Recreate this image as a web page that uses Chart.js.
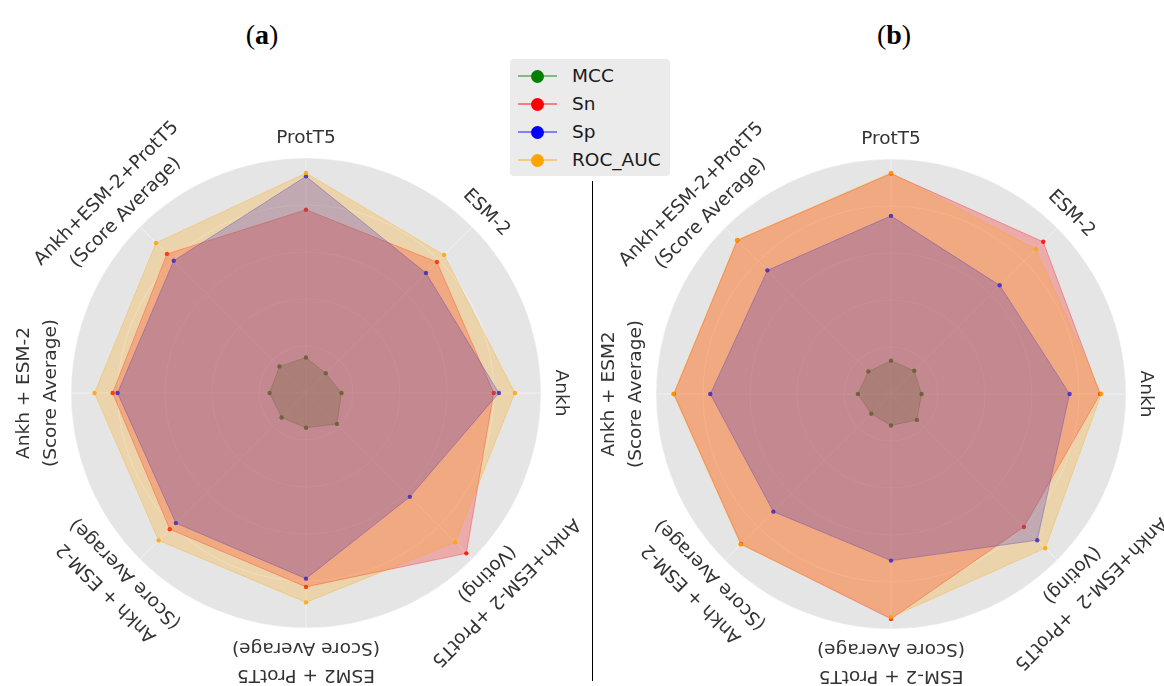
<!DOCTYPE html>
<html>
<head>
<meta charset="utf-8">
<script src="https://cdn.jsdelivr.net/npm/chart.js@4/dist/chart.umd.min.js"></script>
<style>
  html, body { margin: 0; padding: 0; background: #ffffff; }
  #page { position: relative; width: 1164px; height: 686px; overflow: hidden; background: #ffffff; }
  .panel { position: absolute; }
  .tag { position: absolute; width: 100px; text-align: center; font-family: "Liberation Serif", "DejaVu Serif", serif;
         font-size: 28px; line-height: 28px; color: #000; }
  .tag b { font-weight: bold; }
  #divider { position: absolute; left: 592px; top: 181px; width: 1px; height: 500px; background: #000; }
  #legend { position: absolute; left: 510px; top: 59px; width: 160px; height: 117px; background: #EBEBEB;
            border-radius: 4px; font-family: "DejaVu Sans", sans-serif; font-size: 18.5px; color: #1a1a1a; }
  .row { position: absolute; left: 0; height: 28px; width: 160px; }
  .row .ln { position: absolute; left: 8px; top: 13px; width: 39px; height: 1.5px; }
  .row .dot { position: absolute; left: 20.5px; top: 7.5px; width: 13px; height: 13px; border-radius: 50%; }
  .row .tx { position: absolute; left: 62px; top: 0; line-height: 28px; }
</style>
</head>
<body>
<div id="page">
  <div class="tag" style="left:212px; top:21px;">(<b>a</b>)</div>
  <div class="tag" style="left:844px; top:21px;">(<b>b</b>)</div>
  <canvas id="chartA" class="panel" width="640" height="640" style="left:-14px; top:73px;"></canvas>
  <canvas id="chartB" class="panel" width="640" height="640" style="left:571px; top:74px;"></canvas>
  <div id="divider"></div>
  <div id="legend"></div>
</div>
<script>
// Axis names, clockwise from the top
const labelsA = [
  'ProtT5', 'ESM-2', 'Ankh',
  ['Ankh+ESM-2 +ProtT5', '(Voting)'],
  ['ESM2 + ProtT5', '(Score Average)'],
  ['Ankh + ESM-2', '(Score Average)'],
  ['Ankh + ESM-2', '(Score Average)'],
  ['Ankh+ESM-2+ProtT5', '(Score Average)']
];
const labelsB = [
  'ProtT5', 'ESM-2', 'Ankh',
  ['Ankh+ESM-2  +ProtT5', '(Voting)'],
  ['ESM-2 + ProtT5', '(Score Average)'],
  ['Ankh + ESM-2', '(Score Average)'],
  ['Ankh + ESM2', '(Score Average)'],
  ['Ankh+ESM-2+ProtT5', '(Score Average)']
];

// Metric names
const metricNames = ['MCC', 'Sn', 'Sp', 'ROC_AUC'];

// Panel (a) scores
const mccA = [0.151, 0.119, 0.151, 0.186, 0.148, 0.147, 0.155, 0.160];
const snA  = [0.780, 0.788, 0.799, 0.965, 0.825, 0.820, 0.823, 0.837];
const spA  = [0.922, 0.722, 0.821, 0.625, 0.790, 0.783, 0.802, 0.796];
const rocA = [0.936, 0.831, 0.889, 0.898, 0.891, 0.887, 0.900, 0.903];

// Panel (b) scores
const mccB = [0.142, 0.140, 0.130, 0.156, 0.134, 0.119, 0.141, 0.136];
const snB  = [0.938, 0.916, 0.890, 0.800, 0.957, 0.903, 0.924, 0.925];
const spB  = [0.758, 0.654, 0.760, 0.880, 0.709, 0.708, 0.769, 0.744];
const rocB = [0.941, 0.872, 0.895, 0.928, 0.950, 0.905, 0.926, 0.927];

// Radial range
const radialMin = 0;
const radialMax = 1;
const radialStep = 0.2;

const rgb = {
  MCC: [0, 128, 0],
  Sn: [255, 0, 0],
  Sp: [0, 0, 255],
  ROC_AUC: [255, 165, 0]
};
const rgba = (c, a) => `rgba(${c[0]},${c[1]},${c[2]},${a})`;

// Tangential axis names drawn around the rim, outer line first
const rimLabels = {
  id: 'rimLabels',
  afterDraw(chart, args, opts) {
    const s = chart.scales.r;
    const ctx = chart.ctx;
    ctx.save();
    ctx.font = opts.font;
    ctx.fillStyle = opts.color;
    ctx.textAlign = 'center';
    ctx.textBaseline = 'middle';
    chart.data.labels.forEach((lab, i) => {
      const lines = Array.isArray(lab) ? lab : [lab];
      const ang = s.getIndexAngle(i);
      ctx.save();
      ctx.translate(s.xCenter, s.yCenter);
      ctx.rotate(ang);
      lines.forEach((ln, k) => {
        const d = s.drawingArea + opts.gap + (lines.length - 1 - k) * opts.lineStep;
        ctx.fillText(ln, 0, -d);
      });
      ctx.restore();
    });
    ctx.restore();
  }
};

function series(name, values, order) {
  const c = rgb[name];
  return {
    label: name,
    data: values,
    order: order,
    fill: true,
    backgroundColor: rgba(c, 0.25),
    borderColor: rgba(c, 0.3),
    borderWidth: 1,
    pointRadius: 2.2,
    pointBorderWidth: 0,
    pointBackgroundColor: rgba(c, 0.85)
  };
}

function makeRadar(id, labels, mcc, sn, sp, roc) {
  return new Chart(document.getElementById(id), {
    type: 'radar',
    data: {
      labels: labels,
      datasets: [
        series('MCC', mcc, 4),
        series('Sn', sn, 3),
        series('Sp', sp, 2),
        series('ROC_AUC', roc, 1)
      ]
    },
    options: {
      responsive: false,
      animation: false,
      devicePixelRatio: 1,
      layout: { padding: 85 },
      elements: { line: { tension: 0 } },
      plugins: {
        legend: { display: false },
        tooltip: { enabled: false },
        rimLabels: { font: '18.5px "DejaVu Sans", sans-serif', color: '#333333', gap: 20, lineStep: 27 }
      },
      scales: {
        r: {
          min: radialMin,
          max: radialMax,
          backgroundColor: '#E5E5E5',
          grid: { color: 'rgba(255,255,255,0.45)', lineWidth: 1, circular: true },
          angleLines: { display: true, color: 'rgba(255,255,255,0.45)', lineWidth: 1 },
          ticks: { display: false, stepSize: radialStep },
          pointLabels: { display: false }
        }
      }
    },
    plugins: [rimLabels]
  });
}

makeRadar('chartA', labelsA, mccA, snA, spA, rocA);
makeRadar('chartB', labelsB, mccB, snB, spB, rocB);

// Shared legend
const legend = document.getElementById('legend');
metricNames.forEach((name, i) => {
  const c = rgb[name];
  const row = document.createElement('div');
  row.className = 'row';
  row.style.top = (3 + i * 28) + 'px';
  const ln = document.createElement('div');
  ln.className = 'ln';
  ln.style.background = rgba(c, 0.45);
  const dot = document.createElement('div');
  dot.className = 'dot';
  dot.style.background = rgba(c, 1);
  const tx = document.createElement('div');
  tx.className = 'tx';
  tx.textContent = name;
  row.appendChild(ln);
  row.appendChild(dot);
  row.appendChild(tx);
  legend.appendChild(row);
});
</script>
</body>
</html>
